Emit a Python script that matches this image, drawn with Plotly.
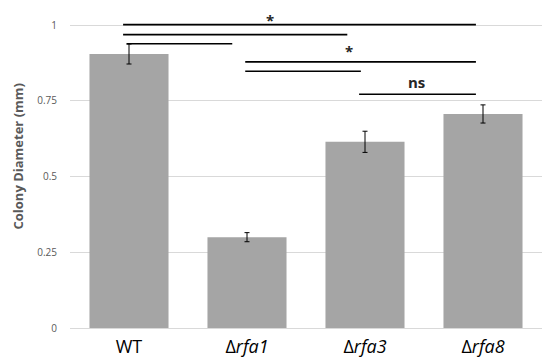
import plotly.graph_objects as go

categories = ["WT", "Δ<i>rfa1</i>", "Δ<i>rfa3</i>", "Δ<i>rfa8</i>"]
values = [0.905, 0.300, 0.615, 0.707]
errors = [0.033, 0.015, 0.035, 0.030]
ytick_vals = [0, 0.25, 0.5, 0.75, 1]
ytick_text = ["0", "0.25", "0.5", "0.75", "1"]
y_title = "Colony Diameter (mm)"

# significance bars: (x0, x1, y)
sig_lines = [
    (-0.05, 2.94, 1.002),
    (-0.05, 1.85, 0.969),
    (-0.02, 0.875, 0.939),
    (0.985, 2.94, 0.879),
    (0.985, 1.965, 0.848),
    (1.95, 2.94, 0.772),
]
# (text, x, y, vertical anchor)
sig_labels = [("*", 1.196, 1.057, "top"), ("*", 1.864, 0.915, "middle"),
              ("ns", 2.436, 0.814, "middle")]

xpos = list(range(len(categories)))

fig = go.Figure(go.Bar(
    x=xpos, y=values,
    marker=dict(color="#a5a5a5", line=dict(width=0)),
    width=0.67,
    error_y=dict(type="data", array=errors, color="black", thickness=1, width=2.5),
))

for x0, x1, y in sig_lines:
    fig.add_shape(type="line", x0=x0, x1=x1, y0=y, y1=y, xref="x", yref="y",
                  line=dict(color="black", width=1.6))
for txt, x, y, ya in sig_labels:
    fig.add_annotation(text="<b>%s</b>" % txt, x=x, y=y, xref="x", yref="y",
                       yanchor=ya, xanchor="center",
                       showarrow=False, font=dict(size=15, color="#262626", family="Open Sans"))

fig.add_annotation(text="<b>%s</b>" % y_title, xref="paper", yref="paper",
                   x=-0.1112, y=0.5375, textangle=-90, showarrow=False,
                   xanchor="center", yanchor="middle", borderpad=0,
                   font=dict(size=13, color="#595959", family="Open Sans"))

fig.update_layout(
    width=542, height=355,
    margin=dict(l=62, r=8, t=0, b=35),
    plot_bgcolor="white", paper_bgcolor="white",
    showlegend=False,
    font=dict(family="Open Sans"),
)
fig.update_xaxes(range=[-0.5, 3.5], tickvals=xpos, ticktext=categories,
                 tickfont=dict(size=18, color="black"), showgrid=False,
                 showline=False, ticks="", zeroline=False, automargin=False,
                 ticklabelstandoff=6)
fig.update_yaxes(range=[0, 1.057], tickvals=ytick_vals, ticktext=ytick_text,
                 tickfont=dict(size=10, color="#595959"),
                 showgrid=True, gridcolor="#d9d9d9", gridwidth=1,
                 zeroline=True, zerolinecolor="#d9d9d9", zerolinewidth=1,
                 ticks="", ticklabelstandoff=12, automargin=False)

fig.write_html("out.html")
